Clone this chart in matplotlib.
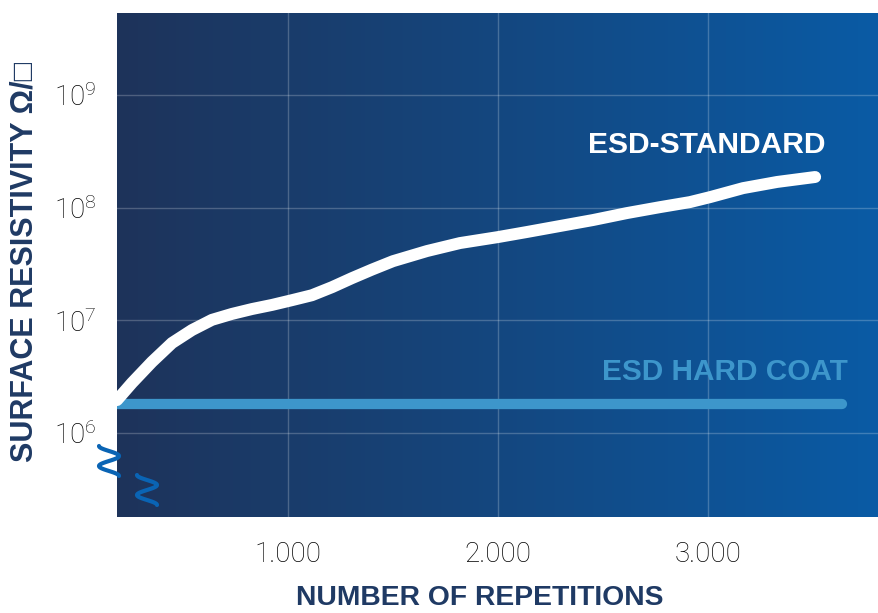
import numpy as np
import matplotlib
matplotlib.use("Agg")
import matplotlib.pyplot as plt
from matplotlib.colors import LinearSegmentedColormap
from matplotlib.ticker import FixedLocator, FixedFormatter

plt.rcParams["font.family"] = ["Liberation Sans", "DejaVu Sans"]
plt.rcParams["mathtext.fontset"] = "custom"
plt.rcParams["mathtext.rm"] = "Roboto:light"
plt.rcParams["mathtext.it"] = "Roboto:light"

# data
repetitions = [186, 257, 352, 448, 543, 638, 733, 829, 924, 1019, 1114,
               1210, 1305, 1400, 1500, 1662, 1819, 2000, 2138, 2295, 2452,
               2614, 2771, 2914, 3010, 3167, 3329, 3510]
esd_standard = [1.96e6, 2.78e6, 4.27e6, 6.30e6, 8.20e6, 1.01e7, 1.14e7,
                1.26e7, 1.37e7, 1.51e7, 1.67e7, 1.97e7, 2.37e7, 2.82e7,
                3.35e7, 4.12e7, 4.85e7, 5.48e7, 6.08e7, 6.87e7, 7.76e7,
                8.95e7, 1.01e8, 1.12e8, 1.24e8, 1.49e8, 1.69e8, 1.87e8]
hard_coat_x = [186, 3638]
hard_coat = [1.81e6, 1.81e6]

x_ticks = [1000, 2000, 3000]
x_tick_labels = ["1.000", "2.000", "3.000"]
y_ticks = [1e6, 1e7, 1e8, 1e9]
y_tick_labels = [r"$10^{6}$", r"$10^{7}$", r"$10^{8}$", r"$10^{9}$"]

navy = "#1f3a64"
light_blue = "#3d96cb"

fig = plt.figure(figsize=(8.79, 6.13), dpi=100)
ax = fig.add_axes([117 / 879, 96 / 613, 762 / 879, 504 / 613])

ax.set_yscale("log")
ax.set_xlim(186, 3814)
ax.set_ylim(10 ** 5.255, 10 ** 9.727)

# background gradient
cmap = LinearSegmentedColormap.from_list("bg", ["#1e335a", "#0a5ba5"])
grad = np.linspace(0, 1, 256).reshape(1, -1)
ax.imshow(grad, cmap=cmap, aspect="auto", extent=(0, 1, 0, 1),
          transform=ax.transAxes, zorder=0)

ax.grid(True, color="white", alpha=0.22, lw=1.0, zorder=1)
ax.set_axisbelow(False)

ax.plot(hard_coat_x, hard_coat, color=light_blue, lw=7.4,
        solid_capstyle="round", zorder=3)
ax.plot(repetitions, esd_standard, color="white", lw=8.6,
        solid_capstyle="round", solid_joinstyle="round", zorder=4)

ax.text(3557, 3.59e8, "ESD-STANDARD", color="white", fontsize=21.6,
        fontweight="bold", ha="right", va="center", zorder=5)
ax.text(3667, 3.48e6, "ESD HARD COAT", color=light_blue, fontsize=21.4,
        fontweight="bold", ha="right", va="center", zorder=5)

ax.xaxis.set_major_locator(FixedLocator(x_ticks))
ax.xaxis.set_major_formatter(FixedFormatter(x_tick_labels))
ax.yaxis.set_major_locator(FixedLocator(y_ticks))
ax.yaxis.set_major_formatter(FixedFormatter(y_tick_labels))
ax.yaxis.set_minor_locator(FixedLocator([]))
ax.tick_params(axis="both", length=0, labelsize=20, colors="black")
ax.tick_params(axis="x", pad=17)
ax.tick_params(axis="y", pad=15)
for lab in ax.get_xticklabels():
    lab.set_family(["Roboto", "DejaVu Sans"])
    lab.set_fontweight("light")

for s in ax.spines.values():
    s.set_visible(False)

fig.text(480 / 879, 1 - 598 / 613, "NUMBER OF REPETITIONS", fontsize=20.3,
         fontweight="bold", color=navy, ha="center", va="center")
fig.text(25 / 879, 1 - 262 / 613, "SURFACE RESISTIVITY Ω/□", rotation=90,
         fontsize=22, fontweight="bold", color=navy, ha="center", va="center")

# axis break squiggles
for cx, cy in [(109, 461), (147, 490)]:
    t = np.linspace(0, 1, 60)
    px = cx - 10 * np.cos(3 * np.pi * t)
    py = cy - 15 + 30 * t
    fig.add_artist(plt.Line2D(px / 879, 1 - py / 613, color="#0a64b4",
                              lw=3.0, solid_capstyle="round",
                              transform=fig.transFigure))

fig.savefig("out.png", dpi=100)
